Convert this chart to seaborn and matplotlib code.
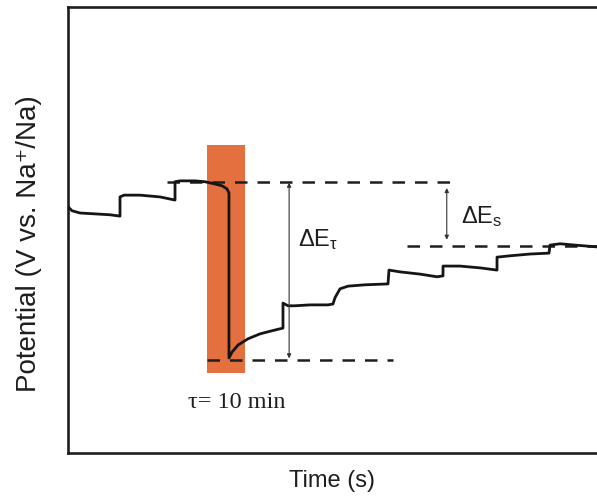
import numpy as np
import pandas as pd
import seaborn as sns
import matplotlib.pyplot as plt
from matplotlib.patches import Rectangle

# GITT-like potential trace (arbitrary units)
time = [0, 0.76, 2.27, 5.10, 7.94, 9.83, 9.83, 10.59, 13.61, 17.39, 20.23,
        20.23, 21.17, 24.01, 25.90, 27.79, 29.11, 30.06, 30.43, 30.43,
        31.00, 32.14, 34.03, 36.29, 38.56, 40.64, 40.64, 41.59, 42.91,
        45.75, 49.15, 50.09, 50.47, 51.42, 52.93, 56.14, 60.49, 60.68,
        62.76, 66.54, 69.75, 70.89, 70.89, 74.10, 77.88, 81.10, 81.10,
        83.55, 87.33, 90.93, 91.12, 93.01, 95.84, 100]
potential = [55.2, 54.3, 53.8, 53.6, 53.4, 53.1, 57.4, 57.8, 57.8, 57.4, 56.7,
             60.8, 61.0, 61.0, 60.8, 60.3, 59.9, 59.2, 58.3, 21.3,
             22.6, 24.2, 25.6, 26.7, 27.4, 28.0, 33.6, 33.0, 33.0,
             33.2, 33.2, 33.4, 34.8, 36.8, 37.4, 37.7, 37.9, 41.0,
             40.6, 40.1, 39.5, 39.7, 41.9, 41.9, 41.5, 41.0, 43.9,
             44.2, 44.6, 44.8, 46.6, 46.9, 46.6, 46.2]

# pulse window (tau = 10 min) and reference levels
pulse_start, pulse_end = 26.3, 33.5
pulse_low, pulse_high = 17.9, 69.1
level_top = 60.8       # potential before the pulse
level_bottom = 20.9    # potential at the end of the pulse
level_relaxed = 46.4   # new equilibrium potential

df = pd.DataFrame({'Time': time, 'Potential': potential})

sns.set_style('white')
plt.rcParams['font.family'] = ['Liberation Sans', 'DejaVu Sans']

fig = plt.figure(figsize=(5.97, 4.99), dpi=100)
ax = fig.add_axes([0.1139, 0.0922, 0.8861, 0.894])

ax.add_patch(Rectangle((pulse_start, pulse_low), pulse_end - pulse_start,
                       pulse_high - pulse_low, color='#E4703F', lw=0, zorder=1))

dash = dict(color='#1e1e1e', lw=1.8, linestyle=(0, (5, 4)), zorder=2)
ax.plot([18.7, 73.2], [level_top, level_top], **dash)
ax.plot([26.3, 61.4], [level_bottom, level_bottom], **dash)
ax.plot([64.1, 100], [level_relaxed, level_relaxed], **dash)

sns.lineplot(data=df, x='Time', y='Potential', sort=False, estimator=None,
             color='#151515', lw=2.0, ax=ax, zorder=3)

arrow = dict(arrowstyle='<|-|>', color='#333333', lw=0.8, mutation_scale=6,
             shrinkA=0, shrinkB=0)
ax.annotate('', xy=(41.8, 60.6), xytext=(41.8, 21.2), arrowprops=arrow)
ax.annotate('', xy=(71.6, 59.4), xytext=(71.6, 47.8), arrowprops=arrow)

ax.text(43.4, 47.8, r'$\mathregular{\Delta E_{\tau}}$', fontsize=17,
        va='center', ha='left', color='#1e1e1e')
ax.text(74.2, 52.9, r'$\mathregular{\Delta E_{s}}$', fontsize=17,
        va='center', ha='left', color='#1e1e1e')
ax.text(22.6, 11.4, 'τ= 10 min', fontsize=17.5, family='Liberation Serif',
        va='center', ha='left', color='#1e1e1e')

ax.set_xlim(0, 100)
ax.set_ylim(0, 100)
ax.set_xticks([])
ax.set_yticks([])
ax.set_xlabel('Time (s)', fontsize=17, color='#1e1e1e', labelpad=12)
ax.set_ylabel('Potential (V vs. Na⁺/Na)', fontsize=20, color='#1e1e1e')
ax.yaxis.set_label_coords(-0.05, 0.47)

for side in ['left', 'top', 'bottom']:
    ax.spines[side].set_color('#1e1e1e')
    ax.spines[side].set_linewidth(1.9)
ax.spines['right'].set_visible(False)

plt.savefig('out.png', dpi=100)
